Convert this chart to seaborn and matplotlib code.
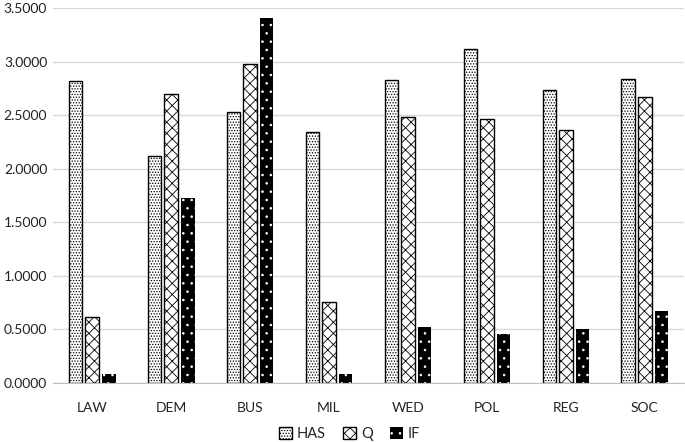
import pandas as pd
import seaborn as sns
import matplotlib.pyplot as plt
from matplotlib.ticker import FormatStrFormatter, MultipleLocator

categories = ['LAW', 'DEM', 'BUS', 'MIL', 'WED', 'POL', 'REG', 'SOC']
series = ['HAS', 'Q', 'IF']
has_vals = [2.82, 2.12, 2.53, 2.34, 2.83, 3.12, 2.73, 2.84]
q_vals = [0.62, 2.70, 2.98, 0.76, 2.48, 2.46, 2.36, 2.67]
if_vals = [0.08, 1.73, 3.41, 0.08, 0.52, 0.46, 0.50, 0.67]

df = pd.DataFrame({
    'cat': categories * 3,
    'series': [s for s in series for _ in categories],
    'value': has_vals + q_vals + if_vals,
})

sns.set_style('white')
plt.rcParams['font.family'] = ['Lato', 'DejaVu Sans']
plt.rcParams['hatch.linewidth'] = 0.6

fig = plt.figure(figsize=(6.85, 4.42), dpi=100)
ax = fig.add_axes([0.077, 0.1335, 0.922, 0.8485])

sns.barplot(data=df, x='cat', y='value', hue='series', hue_order=series,
            palette=['white', 'white', 'black'], width=0.63, gap=0.18,
            edgecolor='black', linewidth=1, errorbar=None, ax=ax)

# hatch styles per series (IF: white dots on black, so edge is white / no outline)
styles = {
    'HAS': dict(hatch='......', fc='white', ec='black', lw=1),
    'Q': dict(hatch='xxx', fc='white', ec='black', lw=1),
    'IF': dict(hatch='..', fc='black', ec='white', lw=0),
}
for s, cont in zip(series, ax.containers):
    for p in cont.patches:
        st = styles[s]
        p.set_facecolor(st['fc'])
        p.set_edgecolor(st['ec'])
        p.set_linewidth(st['lw'])
        p.set_hatch(st['hatch'])

ax.set_ylim(0, 3.5)
ax.yaxis.set_major_locator(MultipleLocator(0.5))
ax.yaxis.set_major_formatter(FormatStrFormatter('%.4f'))
ax.grid(axis='y', color='#d9d9d9', linewidth=1)
ax.set_axisbelow(True)
ax.set_xlabel('')
ax.set_ylabel('')
for sp in ['top', 'right', 'left']:
    ax.spines[sp].set_visible(False)
ax.spines['bottom'].set_color('#bfbfbf')
ax.tick_params(axis='both', length=0, labelsize=10, colors='#222222')
ax.tick_params(axis='x', pad=14)
ax.tick_params(axis='y', pad=4)

handles = [c.patches[0] for c in ax.containers]
ax.legend(handles, series, loc='center', bbox_to_anchor=(0.47, -0.135),
          ncol=3, frameon=False, fontsize=10.5, handlelength=0.9, handleheight=0.9,
          handletextpad=0.3, columnspacing=1.2, borderaxespad=0, borderpad=0)

fig.savefig('out.png', dpi=100)
